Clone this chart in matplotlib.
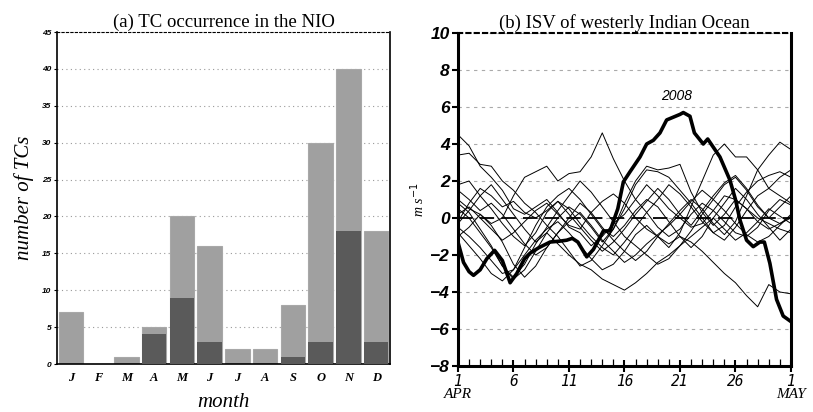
import matplotlib
matplotlib.use("Agg")
import matplotlib.pyplot as plt
import numpy as np

# (a) monthly TC counts
months = ['J', 'F', 'M', 'A', 'M', 'J', 'J', 'A', 'S', 'O', 'N', 'D']
tc_all = [7, 0, 1, 5, 20, 16, 2, 2, 8, 30, 40, 18]
tc_dark = [0, 0, 0, 4, 9, 3, 0, 0, 1, 3, 18, 3]

# (b) ISV westerly, daily from 1 APR (day 0) to 1 MAY (day 30)
days = list(range(31))
thin_lines = [
    [4.5, 3.9, 2.8, 2.2, 1.5, 0.5, 0.2, 0.6, 1.0, 0.3, -0.5, -0.8, -1.5, -1.0, -0.3, 0.2, 1.0, 1.8, 1.2, 0.5, 0.0, -0.5, -0.3, 0.4, 1.2, 1.0, 0.5, 0.0, -0.3, -0.6, -0.8],
    [1.0, 0.5, 0.2, -0.3, 0.0, 1.2, 2.2, 2.5, 2.8, 2.0, 2.4, 2.5, 3.3, 4.6, 3.2, 2.0, 1.0, 0.3, -0.5, -1.0, -0.6, 0.2, 0.8, 0.4, -0.2, -0.8, -1.0, -0.5, 0.4, 1.0, 0.7],
    [3.4, 3.5, 2.9, 2.8, 2.0, 1.5, 0.8, 0.3, -0.4, -1.0, -1.8, -2.6, -2.3, -1.5, -0.6, 0.5, 1.8, 2.6, 2.5, 2.2, 1.5, 0.8, 0.0, -0.8, -0.4, 0.6, 1.4, 2.0, 2.3, 2.5, 2.2],
    [-0.5, -1.0, -1.6, -2.3, -3.0, -2.8, -2.0, -1.2, -0.6, -0.2, -0.8, -1.5, -2.2, -2.8, -2.5, -1.8, -0.9, -0.4, -1.0, -1.6, -0.8, 0.6, 2.0, 3.4, 4.0, 3.3, 3.3, 2.6, 1.6, 1.2, 0.8],
    [0.2, 0.6, 0.0, -0.6, -1.2, -0.8, -0.2, 0.4, 0.8, 0.2, -0.4, -0.6, 0.3, 0.9, 1.3, 0.8, 0.0, -0.6, -1.0, -1.4, -1.0, -1.3, -1.8, -2.4, -3.0, -3.5, -4.2, -4.8, -3.6, -4.0, -4.1],
    [-0.3, 0.4, 1.2, 1.8, 1.0, 0.2, -0.6, -1.3, -0.8, -1.4, -2.0, -2.5, -2.8, -3.3, -3.6, -3.9, -3.5, -3.0, -2.4, -2.0, -1.5, -1.0, -0.5, 0.0, -0.6, -1.2, -0.8, -0.2, 0.5, 0.1, -0.3],
    [-1.0, -0.5, 0.2, -0.4, -1.3, -2.5, -3.2, -2.6, -1.6, -0.8, 0.0, 0.8, 0.3, -0.5, -1.2, -1.8, -2.3, -1.8, -1.0, -0.3, 0.4, 1.0, 0.5, -0.3, -0.9, -0.2, 1.2, 2.6, 3.4, 4.1, 3.7],
    [0.8, 0.3, -0.6, -1.5, -2.6, -3.3, -2.8, -1.8, -0.8, 0.0, 0.6, 0.2, -0.5, -1.3, -0.6, 0.8, 2.0, 2.8, 2.6, 2.7, 2.9, 1.4, 0.3, -0.4, 0.2, 1.0, 0.5, -0.2, -0.6, -0.3, 0.0],
    [1.8, 2.0, 1.2, 0.5, -0.3, -1.0, -1.5, -0.8, 0.3, 0.9, 0.5, -0.3, -1.0, -1.6, -2.0, -1.3, -0.5, 0.3, 1.0, 1.8, 1.3, 0.6, -0.2, -0.8, -1.2, -0.5, 0.4, 1.2, 1.6, 2.2, 2.6],
    [0.5, 0.0, -0.8, -1.6, -2.6, -3.2, -2.5, -1.4, -0.5, 0.4, 1.2, 2.0, 1.4, 0.6, -0.2, -1.0, -1.5, -2.0, -2.5, -2.2, -1.5, -0.7, 0.2, 1.0, 1.8, 2.2, 1.5, 0.6, 0.0, 0.6, 1.2],
    [-0.8, -1.5, -2.2, -3.0, -3.4, -2.8, -1.6, -0.4, 0.6, 1.2, 1.6, 1.0, 0.2, -0.6, -1.0, -0.4, 0.4, 1.0, 0.6, -0.2, -1.0, -1.6, -1.0, 0.0, 0.8, 1.6, 1.0, 0.2, -0.5, -1.2, -0.6],
    [1.5, 1.0, 0.4, 0.8, 0.2, -0.6, -1.4, -2.0, -1.6, -0.8, -0.2, 0.3, -0.4, -1.2, -1.8, -2.4, -2.0, -1.4, -0.9, -0.4, 0.2, 0.9, 1.5, 1.0, 0.4, -0.3, -0.9, -1.3, -1.0, -0.4, 0.2],
    [-0.2, 0.8, 1.6, 1.2, 0.6, 0.9, 0.3, 0.0, 0.4, 0.9, 0.2, -0.5, -1.2, -1.8, -1.3, -0.6, 0.2, 0.9, 1.6, 1.0, 0.2, -0.4, 0.4, 1.2, 1.9, 2.3, 1.6, 0.7, 0.0, -0.3, 0.1],
]
# 2008 (thick line), traced points
days_2008 = [0, 0.5, 1, 1.4, 2, 2.6, 3.3, 4, 4.7, 5.3, 6, 6.5, 7.3, 8.3, 9.2, 9.8, 10.3, 10.8, 11.6,
             12.2, 13.1, 13.7, 14.4, 14.9, 15.5, 16.4, 17, 17.6, 18.2, 18.8, 19.4, 20, 20.3, 20.9,
             21.3, 22.1, 22.5, 23.6, 24.5, 25, 25.4, 26, 26.6, 27.2, 27.6, 28.1, 28.7, 29.3, 30]
isv_2008 = [-1.3, -2.4, -2.9, -3.1, -2.8, -2.2, -1.75, -2.3, -3.5, -3.0, -2.2, -1.9, -1.6, -1.3, -1.25,
            -1.2, -1.1, -1.3, -2.1, -1.7, -0.7, -0.7, 0.5, 1.95, 2.5, 3.3, 4.0, 4.2, 4.6, 5.3, 5.45,
            5.6, 5.7, 5.5, 4.6, 4.0, 4.27, 3.3, 2.05, 1.0, -0.1, -1.2, -1.55, -1.3, -1.3, -2.45, -4.4,
            -5.3, -5.6]

serif = 'Liberation Serif'
sans = 'Liberation Sans'

fig = plt.figure(figsize=(8.13, 4.12), dpi=100)

# ---- (a)
ax1 = fig.add_axes([0.0701, 0.1165, 0.4096, 0.8058])
x = np.arange(1, 13)
ax1.bar(x, tc_all, width=0.88, color='#a0a0a0', edgecolor='#a8a8a8', linewidth=0.8, zorder=2)
ax1.bar(x, tc_dark, width=0.88, color='#5a5a5a', linewidth=0, zorder=3)
ax1.set_xlim(0.5, 12.5)
ax1.set_ylim(0, 45)
ax1.set_yticks(range(0, 46, 5))
ax1.yaxis.grid(True, linestyle=(0, (1, 3)), color='#999999', linewidth=0.8, zorder=0)
ax1.set_axisbelow(True)
ax1.set_xticks(x)
ax1.set_xticklabels(months, family=serif, style='italic', weight='bold', fontsize=9)
ax1.tick_params(axis='x', length=0, pad=6)
ax1.tick_params(axis='y', length=2, pad=2, labelsize=6)
for lab in ax1.get_yticklabels():
    lab.set_family(sans)
    lab.set_style('italic')
    lab.set_weight('bold')
for s in ['left', 'bottom', 'right']:
    ax1.spines[s].set_linewidth(1.2)
ax1.spines['top'].set_linestyle((0, (2, 2)))
ax1.spines['top'].set_linewidth(0.8)
ax1.set_title('(a) TC occurrence in the NIO', family=serif, fontsize=13.5, pad=4)
ax1.set_ylabel('number of TCs', family=serif, style='italic', fontsize=15, labelpad=6)
ax1.set_xlabel('month', family=serif, style='italic', fontsize=15, labelpad=6)

# ---- (b)
ax2 = fig.add_axes([0.5633, 0.1117, 0.4096, 0.8082])
for ln in thin_lines:
    ax2.plot(days, ln, color='black', linewidth=0.7, zorder=3)
ax2.plot(days_2008, isv_2008, color='black', linewidth=2.6, zorder=4)
ax2.axhline(0, color='black', linewidth=1.3, linestyle=(0, (8, 4)), zorder=2)
ax2.text(19.7, 6.6, '2008', family=sans, style='italic', fontsize=10, ha='center', va='center')
ax2.set_xlim(0, 30)
ax2.set_ylim(-8, 10)
ax2.set_yticks(range(-8, 11, 2))
ax2.yaxis.grid(True, linestyle=(0, (3, 4)), color='#aaaaaa', linewidth=0.8, zorder=0)
ax2.set_yticklabels([str(v).replace('-', '\u2212') for v in range(-8, 11, 2)],
                    family=sans, style='italic', weight='bold', fontsize=12.5)
ax2.set_xticks(range(0, 31, 5))
ax2.set_xticklabels(['1', '6', '11', '16', '21', '26', '1'],
                    family='DejaVu Sans Mono', style='italic', fontsize=10.5)
ax2.set_xticks([d for d in days if d % 5], minor=True)
ax2.tick_params(axis='x', which='major', direction='inout', length=9, width=1.5, pad=1)
ax2.tick_params(axis='x', which='minor', direction='in', length=5, width=0.9)
ax2.tick_params(axis='y', length=4, width=1.5, pad=2)
for s in ['left', 'bottom', 'right']:
    ax2.spines[s].set_linewidth(2.2)
ax2.spines['top'].set_linestyle((0, (2, 2)))
ax2.spines['top'].set_linewidth(1.5)
ax2.text(0, -0.065, 'APR', transform=ax2.transAxes, family=serif, style='italic',
         fontsize=11, ha='center', va='top')
ax2.text(1, -0.065, 'MAY', transform=ax2.transAxes, family=serif, style='italic',
         fontsize=11, ha='center', va='top')
ax2.set_title('(b) ISV of westerly Indian Ocean', family=serif, fontsize=13.5, pad=4)
ax2.set_ylabel('m s$^{-1}$', family=serif, style='italic', fontsize=10, labelpad=2)

fig.savefig('out.png', dpi=100)
